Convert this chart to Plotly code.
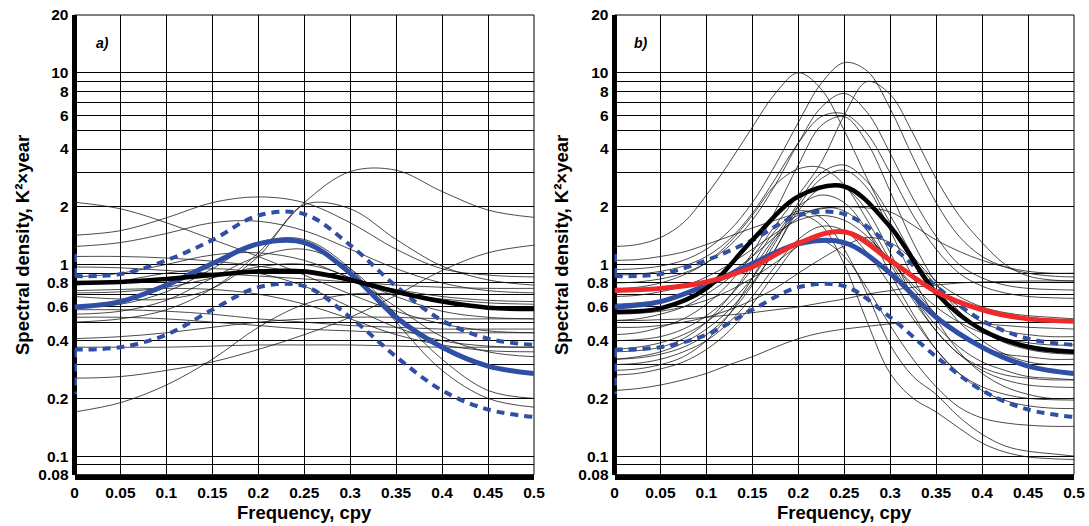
import plotly.graph_objects as go

# ---------------- data ----------------
freq11 = [0, 0.05, 0.1, 0.15, 0.2, 0.25, 0.3, 0.35, 0.4, 0.45, 0.5]
freq21 = [0, 0.025, 0.05, 0.075, 0.1, 0.125, 0.15, 0.175, 0.2, 0.225, 0.25,
          0.275, 0.3, 0.325, 0.35, 0.375, 0.4, 0.425, 0.45, 0.475, 0.5]

# panel a) individual spectra (on freq11)
a01 = [2.11, 1.95, 1.65, 1.35, 1.1, 0.88, 0.7, 0.57, 0.49, 0.45, 0.44]
a02 = [1.42, 1.5, 1.75, 2.1, 2.25, 2.1, 1.65, 1.2, 0.95, 0.88, 0.86]
a03 = [1.24, 1.3, 1.45, 1.65, 1.68, 1.5, 1.2, 0.95, 0.8, 0.73, 0.71]
a04 = [0.68, 0.66, 0.66, 0.75, 1.1, 2.05, 1.95, 1.35, 0.98, 0.83, 0.78]
a05 = [0.97, 0.96, 0.93, 0.9, 0.87, 0.84, 0.81, 0.78, 0.76, 0.75, 0.75]
a06 = [0.86, 0.9, 1.0, 1.12, 1.15, 1.05, 0.85, 0.68, 0.57, 0.53, 0.52]
a07 = [0.78, 0.82, 0.9, 0.95, 0.9, 0.77, 0.6, 0.47, 0.4, 0.375, 0.37]
a08 = [0.73, 0.74, 0.75, 0.74, 0.7, 0.62, 0.52, 0.43, 0.38, 0.355, 0.35]
a09 = [0.71, 0.72, 0.76, 0.85, 0.97, 1.0, 0.85, 0.6, 0.42, 0.35, 0.33]
a10 = [0.6, 0.62, 0.72, 0.95, 1.3, 1.35, 0.95, 0.5, 0.28, 0.2, 0.18]
a11 = [0.58, 0.58, 0.57, 0.55, 0.52, 0.5, 0.48, 0.47, 0.46, 0.46, 0.46]
a12 = [0.55, 0.57, 0.65, 0.85, 1.1, 1.2, 0.95, 0.55, 0.32, 0.22, 0.2]
a13 = [0.53, 0.53, 0.52, 0.5, 0.48, 0.46, 0.45, 0.44, 0.44, 0.44, 0.44]
a14 = [0.5, 0.52, 0.58, 0.75, 1.15, 2.1, 3.05, 3.1, 2.4, 1.92, 1.76]
a15 = [0.41, 0.42, 0.44, 0.47, 0.5, 0.52, 0.53, 0.53, 0.52, 0.52, 0.52]
a16 = [0.37, 0.37, 0.37, 0.375, 0.38, 0.38, 0.38, 0.375, 0.37, 0.37, 0.37]
a17 = [0.255, 0.26, 0.28, 0.31, 0.36, 0.43, 0.53, 0.69, 0.93, 1.15, 1.26]
a18 = [0.17, 0.19, 0.235, 0.32, 0.47, 0.62, 0.7, 0.7, 0.66, 0.63, 0.62]
a19 = [1.1, 1.1, 1.08, 1.04, 0.98, 0.9, 0.82, 0.74, 0.68, 0.65, 0.64]
panel_a_thin = [a01, a02, a03, a04, a05, a06, a07, a08, a09, a10,
                a11, a12, a13, a14, a15, a16, a17, a18, a19]

# panel b) individual spectra (on freq21)
b01 = [1.24, 1.27, 1.38, 1.65, 2.3, 3.4, 5.2, 7.8, 10.0, 8.2, 5.0, 2.8, 1.65, 1.1, 0.82, 0.68, 0.6, 0.56, 0.54, 0.53, 0.52]
b02 = [0.94, 0.95, 0.98, 1.05, 1.2, 1.5, 2.1, 3.3, 5.5, 8.8, 11.3, 10.2, 6.5, 3.6, 2.1, 1.4, 1.1, 0.97, 0.9, 0.87, 0.86]
b03 = [0.51, 0.52, 0.55, 0.6, 0.7, 0.85, 1.1, 1.6, 2.3, 3.4, 6.0, 9.0, 7.7, 4.8, 2.8, 1.8, 1.3, 1.0, 0.87, 0.83, 0.82]
b04 = [0.8, 0.81, 0.84, 0.9, 1.02, 1.25, 1.7, 2.6, 4.3, 6.6, 7.8, 6.2, 3.8, 2.2, 1.4, 1.0, 0.85, 0.78, 0.75, 0.74, 0.735]
b05 = [0.88, 0.89, 0.92, 0.98, 1.1, 1.35, 1.85, 2.8, 4.3, 5.9, 6.1, 4.8, 3.0, 1.8, 1.2, 0.9, 0.77, 0.71, 0.68, 0.67, 0.665]
b06 = [0.43, 0.44, 0.47, 0.52, 0.62, 0.8, 1.15, 1.9, 3.3, 5.3, 5.9, 4.3, 2.4, 1.3, 0.8, 0.57, 0.45, 0.39, 0.36, 0.345, 0.34]
b07 = [0.36, 0.37, 0.39, 0.43, 0.5, 0.63, 0.85, 1.3, 2.1, 3.0, 3.3, 2.7, 1.8, 1.1, 0.72, 0.5, 0.4, 0.34, 0.31, 0.3, 0.3]
b08 = [0.75, 0.76, 0.8, 0.88, 1.02, 1.3, 1.8, 2.6, 3.15, 3.2, 2.6, 1.7, 1.05, 0.68, 0.48, 0.37, 0.31, 0.28, 0.26, 0.255, 0.25]
b09 = [0.32, 0.33, 0.35, 0.39, 0.46, 0.58, 0.8, 1.2, 2.0, 2.8, 3.1, 2.5, 1.5, 0.85, 0.52, 0.35, 0.27, 0.23, 0.21, 0.2, 0.2]
b10 = [1.05, 1.06, 1.1, 1.16, 1.27, 1.4, 1.55, 1.7, 1.85, 1.95, 2.0, 1.97, 1.88, 1.6, 1.34, 1.17, 1.05, 0.97, 0.92, 0.9, 0.9]
b11 = [0.68, 0.69, 0.72, 0.77, 0.86, 1.0, 1.2, 1.45, 1.7, 1.8, 1.7, 1.4, 1.05, 0.78, 0.6, 0.5, 0.44, 0.41, 0.39, 0.38, 0.38]
b12 = [0.22, 0.225, 0.235, 0.25, 0.27, 0.3, 0.33, 0.37, 0.41, 0.44, 0.46, 0.475, 0.49, 0.5, 0.5, 0.5, 0.49, 0.48, 0.47, 0.465, 0.46]
b13 = [0.3, 0.305, 0.32, 0.35, 0.4, 0.5, 0.68, 0.98, 1.35, 1.58, 1.5, 1.15, 0.78, 0.52, 0.36, 0.27, 0.22, 0.195, 0.183, 0.178, 0.177]
b14 = [0.265, 0.27, 0.285, 0.31, 0.36, 0.45, 0.62, 0.9, 1.25, 1.33, 1.1, 0.75, 0.48, 0.32, 0.23, 0.18, 0.158, 0.149, 0.145, 0.143, 0.143]
b15 = [0.28, 0.285, 0.3, 0.33, 0.4, 0.55, 0.85, 1.35, 1.8, 1.6, 1.0, 0.5, 0.27, 0.2, 0.17, 0.14, 0.117, 0.105, 0.099, 0.097, 0.096]
b16 = [0.35, 0.355, 0.37, 0.41, 0.5, 0.68, 1.0, 1.5, 1.9, 1.75, 1.2, 0.7, 0.38, 0.26, 0.21, 0.16, 0.13, 0.113, 0.106, 0.103, 0.1]
b17 = [0.55, 0.555, 0.57, 0.6, 0.65, 0.73, 0.85, 1.02, 1.25, 1.45, 1.5, 1.35, 1.05, 0.75, 0.55, 0.43, 0.37, 0.34, 0.33, 0.32, 0.32]
b18 = [0.62, 0.63, 0.65, 0.69, 0.77, 0.9, 1.1, 1.4, 1.75, 1.97, 1.9, 1.5, 1.0, 0.65, 0.45, 0.34, 0.28, 0.25, 0.235, 0.23, 0.228]
b19 = [0.47, 0.47, 0.48, 0.5, 0.53, 0.58, 0.65, 0.75, 0.9, 1.07, 1.25, 1.38, 1.3, 1.05, 0.78, 0.6, 0.5, 0.45, 0.43, 0.42, 0.42]
b20 = [0.4, 0.405, 0.42, 0.46, 0.54, 0.68, 0.95, 1.4, 2.0, 2.3, 2.1, 1.5, 0.9, 0.55, 0.36, 0.27, 0.23, 0.21, 0.2, 0.197, 0.196]
b21 = [0.51, 0.51, 0.515, 0.52, 0.53, 0.545, 0.56, 0.58, 0.6, 0.63, 0.66, 0.7, 0.73, 0.76, 0.78, 0.8, 0.81, 0.815, 0.82, 0.82, 0.82]
b22 = [0.32, 0.325, 0.34, 0.37, 0.43, 0.55, 0.78, 1.2, 1.9, 2.5, 2.5, 1.9, 1.15, 0.68, 0.45, 0.34, 0.29, 0.265, 0.255, 0.25, 0.25]
panel_b_thin = [b01, b02, b03, b04, b05, b06, b07, b08, b09, b10, b11,
                b12, b13, b14, b15, b16, b17, b18, b19, b20, b21, b22]

# summary curves (on freq11)
blue_mean = [0.60, 0.64, 0.78, 1.01, 1.28, 1.30, 0.90, 0.53, 0.37, 0.295, 0.27]
blue_upper = [0.87, 0.89, 1.05, 1.34, 1.80, 1.83, 1.26, 0.77, 0.51, 0.41, 0.38]
blue_lower = [0.36, 0.37, 0.43, 0.58, 0.76, 0.77, 0.53, 0.33, 0.22, 0.175, 0.16]
zero_freq = [0, 0]
upper_at_zero = [0.87, 1.22]
lower_at_zero = [0.36, 0.21]
black_a = [0.80, 0.81, 0.84, 0.88, 0.92, 0.92, 0.83, 0.72, 0.64, 0.595, 0.585]
black_b = [0.567, 0.59, 0.75, 1.34, 2.26, 2.55, 1.57, 0.71, 0.455, 0.372, 0.35]
red_b = [0.73, 0.75, 0.81, 0.97, 1.29, 1.48, 1.05, 0.72, 0.58, 0.52, 0.505]

y_grid = [0.08, 0.09, 0.1, 0.2, 0.3, 0.4, 0.5, 0.6, 0.7, 0.8, 0.9,
          1, 2, 3, 4, 5, 6, 7, 8, 9, 10, 20]
y_labelled = {0.08: "0.08", 0.1: "0.1", 0.2: "0.2", 0.4: "0.4", 0.6: "0.6",
              0.8: "0.8", 1: "1", 2: "2", 4: "4", 6: "6", 8: "8", 10: "10", 20: "20"}
x_ticks = freq11
x_labels = ["0", "0.05", "0.1", "0.15", "0.2", "0.25", "0.3", "0.35", "0.4", "0.45", "0.5"]

# ---------------- figure ----------------
W, H = 1089, 526
BLUE = "#2f4fa6"
RED = "#ee2a2a"
FONT = "Liberation Sans, Arial, sans-serif"

fig = go.Figure()


def add(xs, ys, ax, color, width, dash="solid", shape="spline"):
    fig.add_trace(go.Scatter(
        x=xs, y=ys, mode="lines", xaxis="x" + ax, yaxis="y" + ax,
        line=dict(color=color, width=width, dash=dash, shape=shape, smoothing=1.0),
        hoverinfo="skip", showlegend=False))


for ax, thin, fx in (("", panel_a_thin, freq11), ("2", panel_b_thin, freq21)):
    for c in thin:
        add(fx, c, ax, "rgba(20,20,20,0.85)", 0.9)
    add(freq11, blue_upper, ax, BLUE, 4, dash="8px,6px")
    add(freq11, blue_lower, ax, BLUE, 4, dash="8px,6px")
    add(zero_freq, upper_at_zero, ax, BLUE, 5, dash="8px,6px", shape="linear")
    add(zero_freq, lower_at_zero, ax, BLUE, 5, dash="8px,6px", shape="linear")
    add(freq11, blue_mean, ax, BLUE, 5)

add(freq11, black_a, "", "black", 4.5)
add(freq11, black_b, "2", "black", 4.5)
add(freq11, red_b, "2", RED, 5)

ydom = [1 - 474.7 / H, 1 - 15 / H]
xdom_a = [74.5 / W, 534 / W]
xdom_b = [614.5 / W, 1074 / W]

tickfont = dict(family=FONT, size=15.5, color="black", weight="bold")
yticktext = [y_labelled.get(v, "") for v in y_grid]

common_x = dict(range=[0, 0.5], tickvals=x_ticks, ticktext=x_labels, showgrid=True,
                gridcolor="black", gridwidth=1, zeroline=True, zerolinecolor="black",
                zerolinewidth=5, showline=True, linecolor="black", linewidth=5,
                ticks="", tickfont=tickfont, fixedrange=True, automargin=False,
                ticklabelstandoff=0)
common_y = dict(type="log", range=[-1.09691, 1.30103], tickvals=y_grid, ticktext=yticktext,
                showgrid=True, gridcolor="black", gridwidth=1, zeroline=False,
                showline=False, ticks="", tickfont=tickfont, ticklabelstandoff=5,
                fixedrange=True, automargin=False)

fig.update_layout(
    template="none",
    width=W, height=H, margin=dict(l=0, r=0, t=0, b=0, pad=0),
    paper_bgcolor="white", plot_bgcolor="white", showlegend=False,
    xaxis=dict(domain=xdom_a, anchor="y", **common_x),
    yaxis=dict(domain=ydom, anchor="x", **common_y),
    xaxis2=dict(domain=xdom_b, anchor="y2", **common_x),
    yaxis2=dict(domain=ydom, anchor="x2", **common_y),
)

# plot frames (thin top/right borders)
for xr, yr in (("x domain", "y domain"), ("x2 domain", "y2 domain")):
    fig.add_shape(type="rect", xref=xr, yref=yr, x0=0, x1=1, y0=0, y1=1,
                  line=dict(color="black", width=1), layer="below")

title_font = dict(family=FONT, size=18.5, color="black", weight="bold")
ytitle = "Spectral density, K\u00b2\u00d7year"
for xc in (22, 561):
    fig.add_annotation(x=xc / W, y=1 - 245 / H, xref="paper", yref="paper", text=ytitle,
                       textangle=-90, showarrow=False, font=title_font,
                       xanchor="center", yanchor="middle")
for xc in (304, 844):
    fig.add_annotation(x=xc / W, y=1 - 512 / H, xref="paper", yref="paper",
                       text="Frequency, cpy", showarrow=False, font=title_font,
                       xanchor="center", yanchor="middle")
for xc, lab in ((102, "a)"), (641, "b)")):
    fig.add_annotation(x=xc / W, y=1 - 43 / H, xref="paper", yref="paper", text=lab,
                       showarrow=False, xanchor="center", yanchor="middle",
                       font=dict(family=FONT, size=14, color="black", weight="bold",
                                 style="italic"))

fig.write_html(
    "out.html",
    config={"displayModeBar": False, "staticPlot": True},
    post_script="document.body.style.margin='0';document.body.style.padding='0';"
                "document.body.style.overflow='hidden';",
)
